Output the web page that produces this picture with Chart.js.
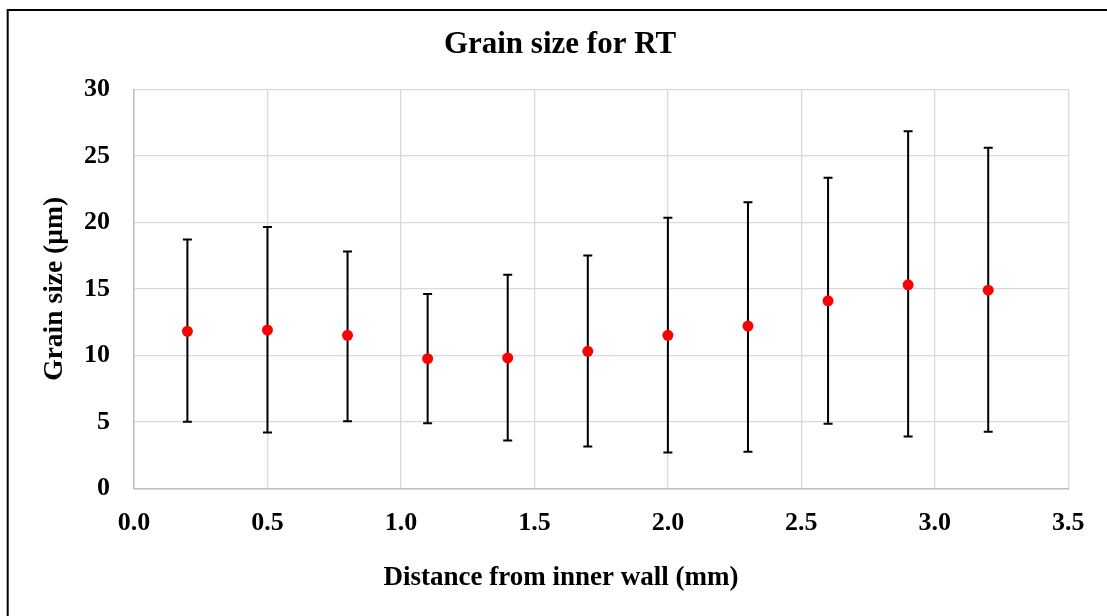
<!DOCTYPE html>
<html><head><meta charset="utf-8">
<script src="https://cdn.jsdelivr.net/npm/chart.js@4"></script>
<style>html,body{margin:0;padding:0;background:#fff}#wrap{width:1107px;height:616px;position:relative}</style>
</head><body><div id="wrap"><canvas id="c" width="1107" height="616"></canvas></div>
<script>
const distances = [0.2, 0.5, 0.8, 1.1, 1.4, 1.7, 2.0, 2.3, 2.6, 2.9, 3.2];
const meanGrain = [11.8, 11.9, 11.5, 9.75, 9.8, 10.3, 11.5, 12.2, 14.1, 15.3, 14.9];
const upperGrain = [18.7, 19.65, 17.8, 14.6, 16.05, 17.5, 20.35, 21.5, 23.35, 26.85, 25.6];
const lowerGrain = [5.0, 4.2, 5.05, 4.9, 3.6, 3.15, 2.7, 2.75, 4.85, 3.9, 4.25];

const titleText = 'Grain size for RT';
const xTitle = 'Distance from inner wall (mm)';
const yTitle = 'Grain size (\u00b5m)';

const serif = 'Liberation Serif, Times New Roman, serif';

const errorBars = {
  id: 'errorBars',
  beforeDatasetsDraw(chart) {
    const {ctx, scales: {x, y}} = chart;
    ctx.save();
    ctx.strokeStyle = '#000';
    ctx.lineWidth = 2;
    const cap = 4.5;
    distances.forEach((d, i) => {
      const px = x.getPixelForValue(d);
      const yt = y.getPixelForValue(upperGrain[i]);
      const yb = y.getPixelForValue(lowerGrain[i]);
      ctx.beginPath();
      ctx.moveTo(px, yt); ctx.lineTo(px, yb);
      ctx.moveTo(px - cap, yt); ctx.lineTo(px + cap, yt);
      ctx.moveTo(px - cap, yb); ctx.lineTo(px + cap, yb);
      ctx.stroke();
    });
    ctx.restore();
  }
};

const frameAndTitles = {
  id: 'frameAndTitles',
  afterDraw(chart) {
    const {ctx} = chart;
    ctx.save();
    ctx.strokeStyle = '#000';
    ctx.lineWidth = 2;
    ctx.beginPath();
    ctx.moveTo(7.7, 640); ctx.lineTo(7.7, 10); ctx.lineTo(1120, 10);
    ctx.stroke();
    ctx.fillStyle = '#000';
    ctx.textAlign = 'center';
    ctx.textBaseline = 'alphabetic';
    ctx.font = 'bold 31px ' + serif;
    ctx.fillText(titleText, 560, 53);
    ctx.font = 'bold 27px ' + serif;
    ctx.textBaseline = 'middle';
    ctx.fillText(xTitle, 561, 578);
    ctx.restore();
  }
};

new Chart(document.getElementById('c'), {
  type: 'scatter',
  data: {
    datasets: [{
      data: distances.map((d, i) => ({x: d, y: meanGrain[i]})),
      backgroundColor: '#ff0000',
      borderWidth: 0,
      pointRadius: 5.5,
      pointHoverRadius: 5.5
    }]
  },
  plugins: [errorBars, frameAndTitles],
  options: {
    responsive: false,
    animation: false,
    events: [],
    layout: {padding: {left: 0, right: 38.7, top: 89.3, bottom: 0}},
    plugins: {
      legend: {display: false},
      tooltip: {enabled: false},
      title: {display: false}
    },
    scales: {
      x: {
        type: 'linear', min: 0, max: 3.5,
        afterFit(s) { s.height = 127.7; },
        ticks: {stepSize: 0.5, color: '#000', padding: 19,
          font: {family: serif, size: 26, weight: 'bold'},
          callback: v => Number(v).toFixed(1), maxRotation: 0},
        grid: {color: '#d9d9d9', lineWidth: 1.3, drawTicks: false},
        border: {color: '#bfbfbf', width: 1.5},
        title: {display: false}
      },
      y: {
        type: 'linear', min: 0, max: 30,
        afterFit(s) { s.width = 134; },
        ticks: {stepSize: 5, color: '#000', padding: 24,
          font: {family: serif, size: 26, weight: 'bold'}},
        grid: {color: '#d9d9d9', lineWidth: 1.3, drawTicks: false},
        border: {color: '#bfbfbf', width: 1.5},
        title: {display: true, text: yTitle, color: '#000',
          font: {family: serif, size: 27.5, weight: 'bold'},
          padding: {top: 38, bottom: 0}}
      }
    }
  }
});
</script>
</body></html>
